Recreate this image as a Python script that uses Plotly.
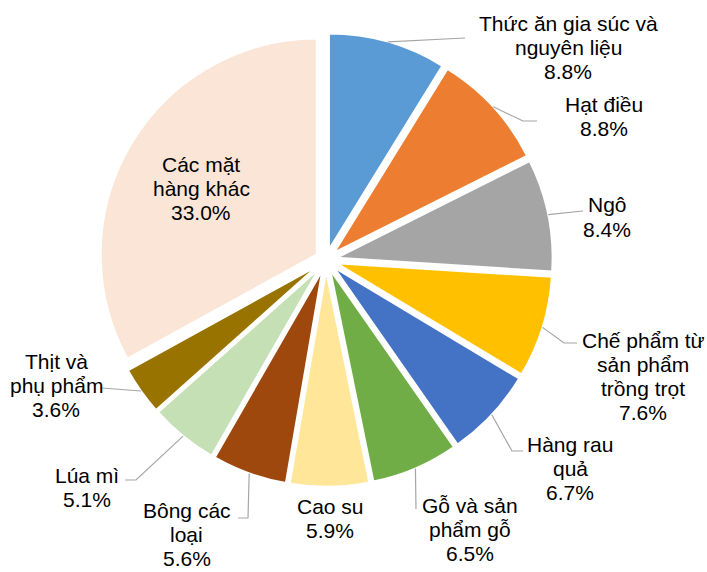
import math
import plotly.graph_objects as go

# ---- data ----
categories = [
    "Thức ăn gia súc và<br>nguyên liệu",
    "Hạt điều",
    "Ngô",
    "Chế phẩm từ<br>sản phẩm<br>trồng trọt",
    "Hàng rau<br>quả",
    "Gỗ và sản<br>phẩm gỗ",
    "Cao su",
    "Bông các<br>loại",
    "Lúa mì",
    "Thịt và<br>phụ phẩm",
    "Các mặt<br>hàng khác",
]
shares = [8.8, 8.8, 8.4, 7.6, 6.7, 6.5, 5.9, 5.6, 5.1, 3.6, 33.0]
colors = ["#5B9BD5", "#ED7D31", "#A5A5A5", "#FFC000", "#4472C4", "#70AD47",
          "#FFE699", "#9E480E", "#C5E0B4", "#997300", "#FBE5D6"]

# ---- layout constants (pixels) ----
W, H = 707, 572
CX, CY = 326, 260          # pie centre
R_TOTAL = 226.8            # radius incl. pull
PULL = 0.05
R = R_TOTAL / (1 + PULL)
FONT_SIZE = 21
LINE_STEP = 24
# label anchor: x centre, y centre of the last (percentage) line, in px
label_pos = [(568, 71.5), (604, 128.5), (607, 229), (643, 412.5), (570, 492.5),
             (470, 553), (330, 530), (187, 558), (87, 499), (56, 409), (201, 212.5)]
# leader-line path after the arc point (px)
leader_paths = [
    [(465, 38)],
    [(523, 121), (537, 121)],
    [(583, 211)],
    [(564, 343), (577, 343)],
    [(512, 451), (523, 451)],
    [(416, 509)],
    None,
    [(248, 518), (238, 518)],
    [(136, 480), (125, 480)],
    [(102, 388)],
    None,
]


def px(x, y):
    return x / W, 1 - y / H


fig = go.Figure(go.Pie(
    labels=[c.replace("<br>", " ") for c in categories],
    values=shares,
    sort=False,
    direction="clockwise",
    rotation=0,
    pull=[PULL] * len(shares),
    marker=dict(colors=colors, line=dict(color="white", width=2)),
    textinfo="none",
    hoverinfo="label+percent",
    showlegend=False,
    domain=dict(x=[(CX - R_TOTAL) / W, (CX + R_TOTAL) / W],
                y=[1 - (CY + R_TOTAL) / H, 1 - (CY - R_TOTAL) / H]),
))

total = sum(shares)
cum = 0.0
shapes = []
annotations = []
for i, (cat, v) in enumerate(zip(categories, shares)):
    mid = (cum + v / 2) / total * 2 * math.pi
    cum += v
    # point on the outer arc of the pulled slice
    ax = CX + (R + PULL * R) * math.sin(mid)
    ay = CY - (R + PULL * R) * math.cos(mid)
    path = leader_paths[i]
    if path:
        pts = [(ax, ay)] + path
        d = "M " + " L ".join(f"{px(x, y)[0]:.5f},{px(x, y)[1]:.5f}" for x, y in pts)
        shapes.append(dict(type="path", path=d, xref="paper", yref="paper",
                           line=dict(color="#A6A6A6", width=1.2)))
    lines = cat.split("<br>") + [f"{v:.1f}%"]
    lx, ly_last = label_pos[i]
    n = len(lines)
    for k, line in enumerate(lines):
        ly = ly_last - (n - 1 - k) * LINE_STEP
        xx, yy = px(lx, ly)
        annotations.append(dict(
            x=xx, y=yy, xref="paper", yref="paper",
            text=line, showarrow=False, align="center",
            xanchor="center", yanchor="middle",
            font=dict(family="Liberation Sans, Arial, sans-serif",
                      size=FONT_SIZE, color="#000000"),
        ))

fig.update_layout(
    width=W, height=H,
    margin=dict(l=0, r=0, t=0, b=0),
    paper_bgcolor="white",
    plot_bgcolor="white",
    shapes=shapes,
    annotations=annotations,
)

fig.write_html("out.html",
               config={"displayModeBar": False},
               post_script="document.body.style.margin='0px';")
